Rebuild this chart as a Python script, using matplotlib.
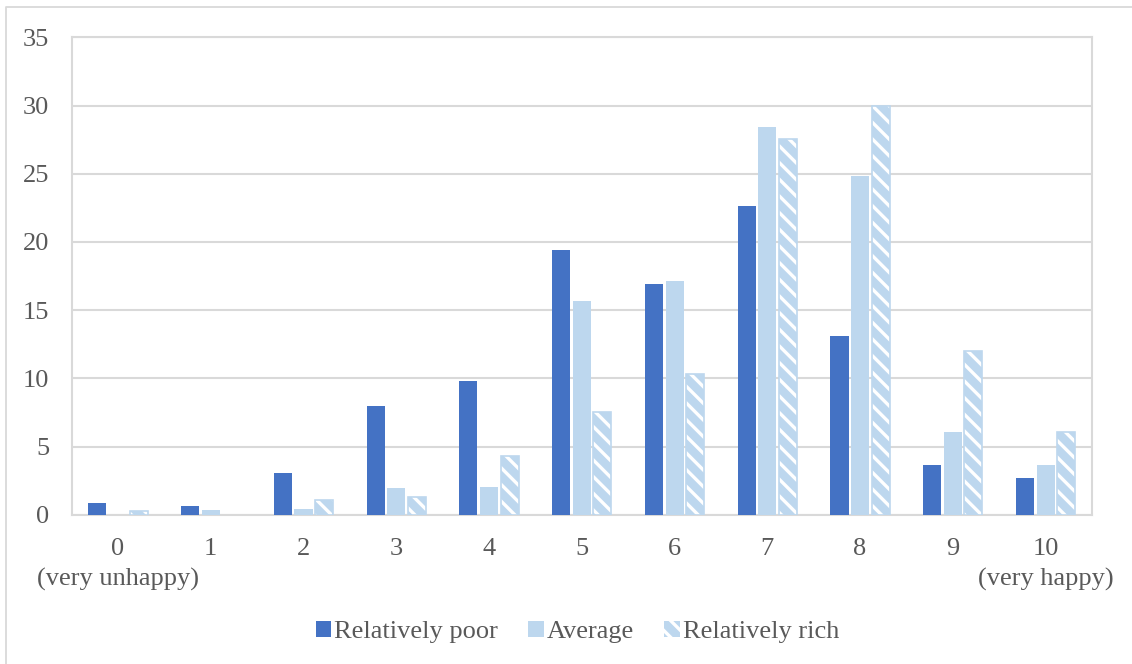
import matplotlib
matplotlib.use("Agg")
import matplotlib.pyplot as plt
from matplotlib.lines import Line2D
from matplotlib.patches import Patch
import numpy as np

# Life-satisfaction score distribution (%) by relative income group
categories = ["0\n(very unhappy)", "1", "2", "3", "4", "5", "6", "7", "8", "9", "10\n(very happy)"]
poor = [0.84, 0.66, 3.06, 8.0, 9.8, 19.4, 16.9, 22.6, 13.1, 3.64, 2.71]
average = [0.0, 0.34, 0.42, 1.96, 2.03, 15.7, 17.1, 28.45, 24.8, 6.08, 3.67]
rich = [0.3, 0.0, 1.08, 1.3, 4.33, 7.55, 10.3, 27.55, 30.0, 12.0, 6.04]
series_names = ["Relatively poor", "Average", "Relatively rich"]
yticks = [0, 5, 10, 15, 20, 25, 30, 35]

DARK_BLUE = "#4472C4"
LIGHT_BLUE = "#BDD7EE"
GRID = "#D9D9D9"
TEXT = "#595959"
FS = 19

plt.rcParams["font.family"] = ["Liberation Serif", "DejaVu Serif"]
plt.rcParams["hatch.linewidth"] = 2.4

W, H = 1132, 664
fig = plt.figure(figsize=(W / 100, H / 100), dpi=100)

# outer chart frame (left and top edges)
fig.lines.append(Line2D([6 / W, 6 / W, 1.0], [0.0, 1 - 7 / H, 1 - 7 / H],
                        transform=fig.transFigure, color=GRID, linewidth=1.3))

ax = fig.add_axes([71.6 / W, 1 - 514.7 / H, (1092 - 71.6) / W, (514.7 - 37.3) / H])

x = np.arange(len(categories))
bw = 0.195
step = 0.222

ax.bar(x - step, poor, width=bw, color=DARK_BLUE, linewidth=0, zorder=3)
ax.bar(x, average, width=bw, color=LIGHT_BLUE, linewidth=0, zorder=3)
# hatched bars: white diagonal stripes on light blue, light blue outline
ax.bar(x + step, rich, width=bw, color=LIGHT_BLUE, edgecolor="white", hatch="\\\\",
       linewidth=0, zorder=3)
ax.bar(x + step, rich, width=bw, fill=False,
       edgecolor=[LIGHT_BLUE if v > 0 else "none" for v in rich], linewidth=1.2, zorder=4)

ax.set_xlim(-0.5, len(categories) - 0.5)
ax.set_ylim(0, 35)
ax.set_yticks(yticks)
ax.set_xticks(x)
ax.set_xticklabels(categories, linespacing=1.45)
ax.yaxis.grid(True, color=GRID, linewidth=1.5, zorder=0)
ax.set_axisbelow(True)
for s in ax.spines.values():
    s.set_color(GRID)
    s.set_linewidth(1.5)
ax.tick_params(axis="both", length=0, labelsize=FS, labelcolor=TEXT)
ax.tick_params(axis="x", pad=17)
ax.tick_params(axis="y", pad=16)

handles = [
    Patch(facecolor=DARK_BLUE, edgecolor="none"),
    Patch(facecolor=LIGHT_BLUE, edgecolor="none"),
    Patch(facecolor=LIGHT_BLUE, edgecolor="white", hatch="\\\\", linewidth=0),
]
leg = fig.legend(handles, series_names, loc="center", bbox_to_anchor=(0.510, 1 - 632 / H),
                 ncol=3, frameon=False, fontsize=FS, handlelength=0.6, handleheight=0.6,
                 handletextpad=0.1, columnspacing=1.15, labelcolor=TEXT)

fig.savefig("out.png", dpi=100)
